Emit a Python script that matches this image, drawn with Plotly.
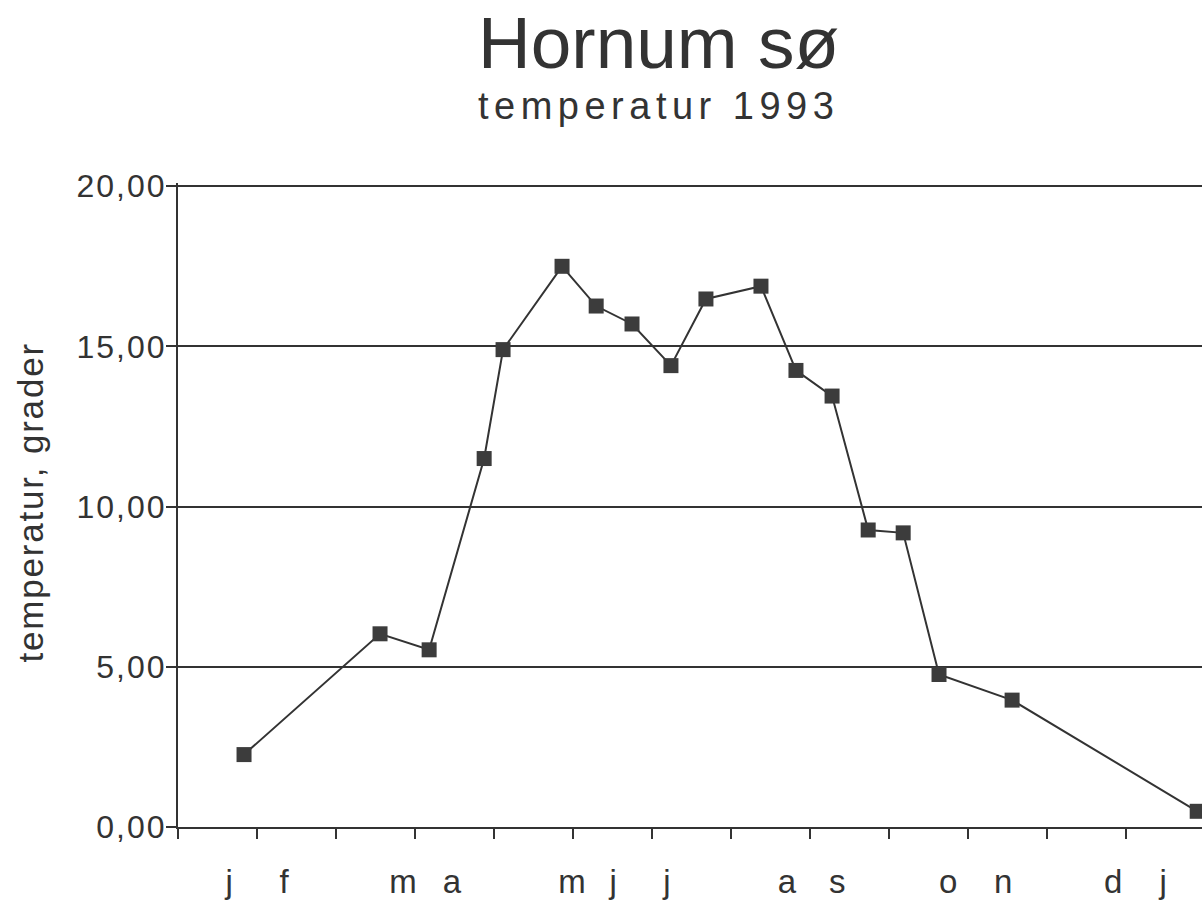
import plotly.graph_objects as go

# dag i året 1993 og målt temperatur
dag = [23.4, 71.6, 89.0, 108.5, 115.2, 136.1, 148.2, 160.9, 174.7, 187.1,
       206.6, 219.0, 231.8, 244.6, 257.0, 269.7, 295.6, 361.2]
temperatur = [2.26, 6.03, 5.53, 11.50, 14.90, 17.50, 16.26, 15.70, 14.40, 16.48,
              16.88, 14.25, 13.45, 9.27, 9.18, 4.76, 3.96, 0.49]

# månedsbogstaver under x-aksen
maaned_pos = [18.1, 37.6, 79.7, 97.1, 139.6, 154.2, 173.3, 215.8, 233.6,
              272.9, 292.4, 331.4, 349.1]
maaned_txt = ["j", "f", "m", "a", "m", "j", "j", "a", "s", "o", "n", "d", "j"]

y_ticks = [0, 5, 10, 15, 20]
y_labels = ["0,00", "5,00", "10,00", "15,00", "20,00"]

FONT = "Liberation Sans, Arial, sans-serif"
INK = "#333333"


def spaced(txt, px):
    return f'<span style="letter-spacing:{px}px">{txt}</span>'


fig = go.Figure()

fig.add_trace(go.Scatter(
    x=dag,
    y=temperatur,
    mode="lines+markers",
    line={"color": INK, "width": 2},
    marker={"symbol": "square", "size": 15, "color": "#3c3c3c"},
    showlegend=False,
))

# x-akse: streger hver 28. dag, bogstaver for måneder
fig.update_xaxes(
    range=[0, 362.9],
    tickmode="array",
    tickvals=maaned_pos,
    ticktext=maaned_txt,
    ticks="",
    ticklabelstandoff=24,
    tickfont={"family": FONT, "size": 33, "color": INK},
    showgrid=False,
    zeroline=False,
    showline=True,
    linecolor=INK,
    linewidth=2,
    minor={"tickmode": "linear", "tick0": 0, "dtick": 28, "ticks": "outside",
           "ticklen": 10, "tickwidth": 2, "tickcolor": INK, "showgrid": False},
)

fig.update_yaxes(
    range=[0, 20.1],
    tickmode="array",
    tickvals=y_ticks,
    ticktext=[spaced(t, 2) for t in y_labels],
    ticks="outside",
    ticklen=10,
    tickwidth=2,
    tickcolor=INK,
    ticklabelstandoff=-7,
    tickfont={"family": FONT, "size": 32, "color": INK},
    showgrid=True,
    gridcolor=INK,
    gridwidth=1.6,
    zeroline=False,
    showline=True,
    linecolor=INK,
    linewidth=2,
)

fig.add_annotation(
    text="Hornum sø", xref="paper", yref="paper", x=0.469, y=1.2185,
    xanchor="center", yanchor="middle", showarrow=False,
    font={"family": FONT, "size": 73, "color": INK},
)
fig.add_annotation(
    text=spaced("temperatur 1993", 5.5),
    xref="paper", yref="paper", x=0.469, y=1.12,
    xanchor="center", yanchor="middle", showarrow=False,
    font={"family": FONT, "size": 38, "color": INK},
)
fig.add_annotation(
    text=spaced("temperatur, grader", 1.8), xref="paper", yref="paper",
    x=-0.1445, y=0.504,
    xanchor="center", yanchor="middle", textangle=-90, showarrow=False,
    font={"family": FONT, "size": 35, "color": INK},
)

fig.update_layout(
    width=1202,
    height=900,
    margin={"l": 178, "r": 0, "t": 183, "b": 67},
    paper_bgcolor="white",
    plot_bgcolor="white",
)

# siden skal ikke have kant rundt om figuren
fig.write_html(
    "out.html",
    config={"displayModeBar": False},
    post_script="document.body.style.margin='0';",
)
